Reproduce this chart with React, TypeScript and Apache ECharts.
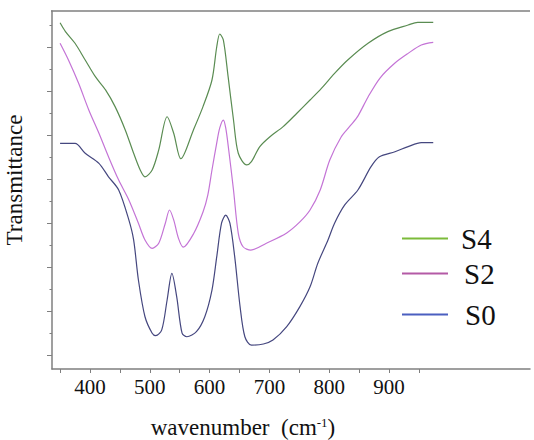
import React, { useEffect, useRef } from "react";
import * as echarts from "echarts";

// S4 (green)
const s4Wavenumber = [350, 359, 375, 392, 409, 426, 442, 459, 473, 484, 492, 504, 515, 529, 540, 552, 573, 589, 604, 612, 617, 623, 631, 640, 648, 662, 670, 684, 701, 723, 746, 768, 787, 809, 831, 865, 898, 932, 948, 974];
const s4Transmittance = [15.1, 14.7, 14.17, 13.41, 12.65, 12.05, 11.29, 10.23, 9.17, 8.41, 8.1, 8.41, 9.32, 10.83, 10.08, 8.92, 10.23, 11.29, 12.5, 14.01, 14.59, 14.32, 12.65, 10.68, 9.17, 8.64, 8.79, 9.47, 9.92, 10.38, 10.99, 11.59, 12.12, 12.8, 13.41, 14.17, 14.7, 15.0, 15.12, 15.12];

// S2 (magenta)
const s2Wavenumber = [350, 364, 381, 398, 415, 431, 448, 465, 481, 492, 504, 515, 526, 533, 540, 548, 556, 573, 589, 597, 604, 612, 617, 623, 627, 632, 640, 648, 656, 669, 695, 729, 751, 768, 785, 801, 820, 835, 848, 865, 885, 910, 932, 954, 974];
const s2Transmittance = [14.17, 13.41, 12.35, 11.14, 10.08, 9.01, 7.95, 7.05, 5.99, 5.23, 4.85, 5.08, 5.99, 6.59, 6.14, 5.3, 4.9, 5.5, 6.5, 7.27, 8.41, 9.64, 10.32, 10.68, 10.32, 9.32, 7.5, 5.53, 4.92, 4.77, 5.08, 5.55, 6.05, 6.59, 7.5, 8.86, 9.91, 10.41, 10.86, 11.73, 12.59, 13.27, 13.71, 14.09, 14.21];

// S0 (blue)
const s0Wavenumber = [350, 375, 392, 415, 431, 448, 465, 473, 481, 492, 504, 510, 520, 529, 537, 545, 554, 562, 578, 592, 604, 612, 620, 627, 634, 642, 651, 659, 670, 690, 706, 729, 751, 768, 781, 798, 809, 826, 848, 870, 884, 910, 932, 954, 974];
const s0Transmittance = [9.62, 9.62, 9.17, 8.71, 8.1, 7.5, 6.14, 5.23, 3.41, 1.74, 0.99, 0.88, 1.14, 2.5, 3.71, 2.65, 0.99, 0.83, 1.06, 1.74, 2.95, 4.47, 5.99, 6.36, 5.99, 4.47, 2.2, 0.83, 0.45, 0.5, 0.68, 1.29, 2.2, 3.1, 4.17, 5.23, 5.99, 6.82, 7.5, 8.56, 9.01, 9.24, 9.47, 9.65, 9.65];

const xTickValues = [350, 400, 450, 500, 550, 600, 650, 700, 750, 800, 850, 900, 950];
const xLabelValues = [400, 500, 600, 700, 800, 900];
const yMajorTicks = [0, 2, 4, 6, 8, 10, 12, 14];
const yMinorTicks = [1, 3, 5, 7, 9, 11, 13, 15];

const FONT = '"Liberation Serif", "DejaVu Serif", serif';
const AXIS_COLOR = "#7f7f7f";
const X_MIN = 336.5;
const X_MAX = 1135.8;
const Y_MIN = -0.636;
const Y_MAX = 15.636;

const zip = (xs: number[], ys: number[]) => xs.map((x, i) => [x, ys[i]]);

export default function App() {
  const ref = useRef<HTMLDivElement>(null);
  useEffect(() => {
    if (!ref.current) return;
    const chart = echarts.init(ref.current, null, { renderer: "svg" });
    const legendBase = {
      icon: "rect",
      itemWidth: 46,
      itemHeight: 2,
      padding: 0,
      selectedMode: false,
      orient: "vertical",
    };
    chart.setOption({
      animation: false,
      backgroundColor: "#ffffff",
      grid: { left: 52, top: 11, right: 4, bottom: 71, containLabel: false, outerBoundsMode: "none" },
      graphic: [
        {
          type: "line",
          shape: { x1: 51, y1: 11, x2: 530, y2: 11 },
          style: { stroke: AXIS_COLOR, lineWidth: 1.5 },
          silent: true,
        },
      ],
      xAxis: {
        type: "value",
        min: X_MIN,
        max: X_MAX,
        position: "bottom",
        axisLine: { show: true, onZero: false, lineStyle: { color: AXIS_COLOR, width: 1.5 } },
        axisTick: { show: true, customValues: xTickValues, length: 4, lineStyle: { color: AXIS_COLOR, width: 1 } },
        axisLabel: { customValues: xLabelValues, fontFamily: FONT, fontSize: 21, color: "#111", margin: 7 },
        splitLine: { show: false },
        name: "{t|wavenumber  (cm}{sup|-1}{t|)}",
        nameLocation: "middle",
        nameGap: 47,
        nameTextStyle: {
          padding: [0, 96, 0, 0],
          rich: {
            t: { fontFamily: FONT, fontSize: 23, lineHeight: 22, color: "#111" },
            sup: { fontFamily: FONT, fontSize: 13, color: "#111", verticalAlign: "top" },
          },
        },
      },
      yAxis: [
        {
          type: "value",
          min: Y_MIN,
          max: Y_MAX,
          position: "left",
          axisLine: { show: true, onZero: false, lineStyle: { color: AXIS_COLOR, width: 1.5 } },
          axisTick: { show: true, customValues: yMajorTicks, length: 5, lineStyle: { color: AXIS_COLOR, width: 1 } },
          axisLabel: { show: false },
          splitLine: { show: false },
          name: "Transmittance",
          nameLocation: "middle",
          nameGap: 26,
          nameTextStyle: { fontFamily: FONT, fontSize: 23, color: "#111", padding: [0, 0, 0, 20] },
        },
        {
          type: "value",
          min: Y_MIN,
          max: Y_MAX,
          position: "left",
          axisLine: { show: false, onZero: false },
          axisTick: { show: true, customValues: yMinorTicks, length: 2.5, lineStyle: { color: AXIS_COLOR, width: 1 } },
          axisLabel: { show: false },
          splitLine: { show: false },
        },
      ],
      legend: [
        {
          ...legendBase,
          left: 402,
          top: 224,
          data: [{ name: "S4", itemStyle: { color: "#7cbb3a" } }],
          textStyle: { fontFamily: FONT, fontSize: 29, color: "#111", padding: [3, 0, 0, 8] },
        },
        {
          ...legendBase,
          left: 402,
          top: 259,
          data: [{ name: "S2", itemStyle: { color: "#b45aa6" } }],
          textStyle: { fontFamily: FONT, fontSize: 29, color: "#111", padding: [8, 0, 0, 11] },
        },
        {
          ...legendBase,
          left: 402,
          top: 300,
          data: [{ name: "S0", itemStyle: { color: "#4b5fc0" } }],
          textStyle: { fontFamily: FONT, fontSize: 29, color: "#111", padding: [3, 0, 0, 12] },
        },
      ],
      series: [
        {
          name: "S4",
          type: "line",
          data: zip(s4Wavenumber, s4Transmittance),
          symbol: "none",
          showSymbol: false,
          smooth: 0.3,
          lineStyle: { color: "#5a8c52", width: 1.2 },
          itemStyle: { color: "#5a8c52" },
        },
        {
          name: "S2",
          type: "line",
          data: zip(s2Wavenumber, s2Transmittance),
          symbol: "none",
          showSymbol: false,
          smooth: 0.3,
          lineStyle: { color: "#c474d6", width: 1.2 },
          itemStyle: { color: "#c474d6" },
        },
        {
          name: "S0",
          type: "line",
          data: zip(s0Wavenumber, s0Transmittance),
          symbol: "none",
          showSymbol: false,
          smooth: 0.3,
          lineStyle: { color: "#45477f", width: 1.2 },
          itemStyle: { color: "#45477f" },
        },
      ],
    });
    return () => chart.dispose();
  }, []);
  return <div ref={ref} style={{ position: "absolute", left: 0, top: 0, width: 534, height: 440 }} />;
}
